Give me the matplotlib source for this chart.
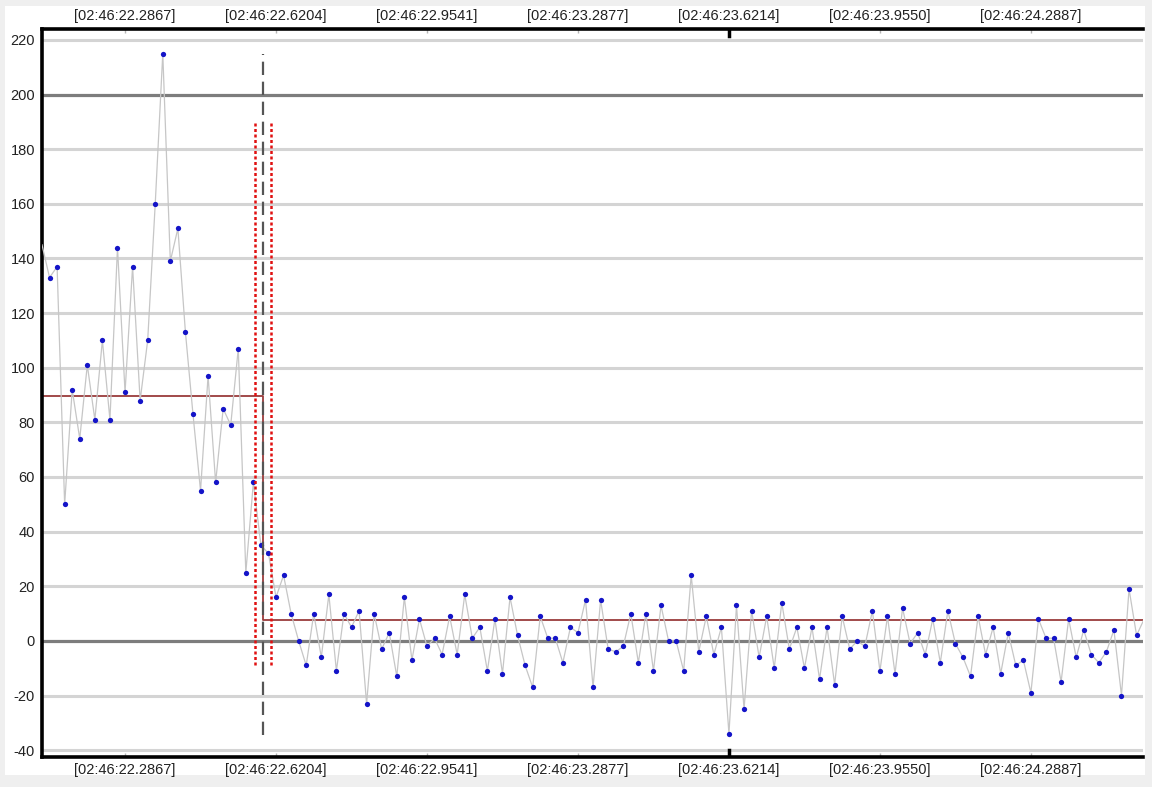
import numpy as np
import matplotlib
matplotlib.use("Agg")
import matplotlib.pyplot as plt
from matplotlib.patches import Rectangle

plt.rcParams["font.family"] = ["Liberation Sans", "DejaVu Sans"]

# samples, first and last ones sit just outside the visible window
sample_values = [
    145,
    133, 137, 50, 92, 74, 101, 81, 110, 81, 144, 91, 137, 88, 110, 160, 215,
    139, 151, 113, 83, 55, 97, 58, 85, 79, 107, 25, 58, 35,
    32, 16, 24, 10, 0, -9, 10, -6, 17, -11, 10, 5, 11, -23, 10, -3, 3, -13,
    16, -7, 8, -2, 1, -5, 9, -5, 17, 1, 5, -11, 8, -12, 16, 2, -9, -17, 9,
    1, 1, -8, 5, 3, 15, -17, 15, -3, -4, -2, 10, -8, 10, -11, 13, 0, 0, -11,
    24, -4, 9, -5, 5, -34, 13, -25, 11, -6, 9, -10, 14, -3, 5, -10, 5, -14,
    5, -16, 9, -3, 0, -2, 11, -11, 9, -12, 12, -1, 3, -5, 8, -8, 11, -1, -6,
    -13, 9, -5, 5, -12, 3, -9, -7, -19, 8, 1, 1, -15, 8, -6, 4, -5, -8, -4,
    4, -20, 19, 2,
    8,
]
first_index = -1

tick_samples = [10, 30, 50, 70, 90, 110, 130]
tick_labels = [
    "[02:46:22.2867]", "[02:46:22.6204]", "[02:46:22.9541]", "[02:46:23.2877]",
    "[02:46:23.6214]", "[02:46:23.9550]", "[02:46:24.2887]",
]
highlight_tick = 90

change_point = 28.3
change_interval = [27.2, 29.3]
interval_span = [-8.8, 190.5]
segment_levels = [89.8, 7.7]

y_ticks = list(range(-40, 221, 20))
dark_grid = [0, 200]


def main():
    values = np.array(sample_values, dtype=float)
    idx = np.arange(first_index, first_index + len(values))
    x0, x1 = -1.0, 144.85
    shown = (idx > x0) & (idx < x1)

    fig = plt.figure(figsize=(11.52, 7.87), dpi=100, facecolor="#efefef")
    fig.patches.append(Rectangle((5 / 1152, 12 / 787), 1140 / 1152, 769 / 787,
                                 transform=fig.transFigure, facecolor="white",
                                 edgecolor="none", zorder=-10))
    ax = fig.add_axes([42 / 1152, 30 / 787, 1101 / 1152, 728 / 787])
    ax.set_facecolor("white")

    for y in y_ticks:
        if y in dark_grid:
            ax.axhline(y, color="#7d7d7d", lw=2.3, zorder=1)
        else:
            ax.axhline(y, color="#d4d4d4", lw=2.2, zorder=1)

    # segment means
    ax.plot([x0, change_point, change_point, x1],
            [segment_levels[0], segment_levels[0], segment_levels[1], segment_levels[1]],
            color="#9a3b3b", lw=1.3, zorder=2)

    ax.plot(idx, values, color="#c6c6c6", lw=0.9, zorder=3)
    ax.plot(idx[shown], values[shown], ls="none", marker="o", ms=3.8,
            color="#1414c8", markeredgewidth=0, zorder=4)

    ax.plot([change_point, change_point], [values.min() - 0.5, values.max()],
            color="#555555", lw=1.6, dashes=(6, 3), zorder=5)
    for cx in change_interval:
        ax.plot([cx, cx], interval_span, color="#e01010", lw=1.8,
                dashes=(1.2, 1.0), zorder=5)

    ax.set_xlim(x0, x1)
    ax.set_ylim(-42.5, 224)

    ax.set_yticks(y_ticks)
    ax.set_yticklabels([str(v) for v in y_ticks])
    ax.tick_params(axis="y", length=0, pad=5, labelsize=10.5, labelcolor="#222222")

    ax.set_xticks(tick_samples)
    ax.set_xticklabels(tick_labels)
    ax.tick_params(axis="x", direction="in", length=3, width=1, color="#b5b5b5",
                   top=True, labeltop=True, bottom=True, labelbottom=True,
                   pad=4, labelsize=10.5, labelcolor="#222222")

    # the current-time tick is drawn darker on both edges
    ax.axvline(highlight_tick, ymin=0, ymax=0.01, color="black", lw=2.5, zorder=6)
    ax.axvline(highlight_tick, ymin=0.99, ymax=1, color="black", lw=2.5, zorder=6)

    for side in ("left", "top", "bottom"):
        ax.spines[side].set_linewidth(2.6)
        ax.spines[side].set_color("black")
    ax.spines["right"].set_visible(False)

    fig.savefig("out.png", dpi=100, facecolor=fig.get_facecolor())


if __name__ == "__main__":
    main()
